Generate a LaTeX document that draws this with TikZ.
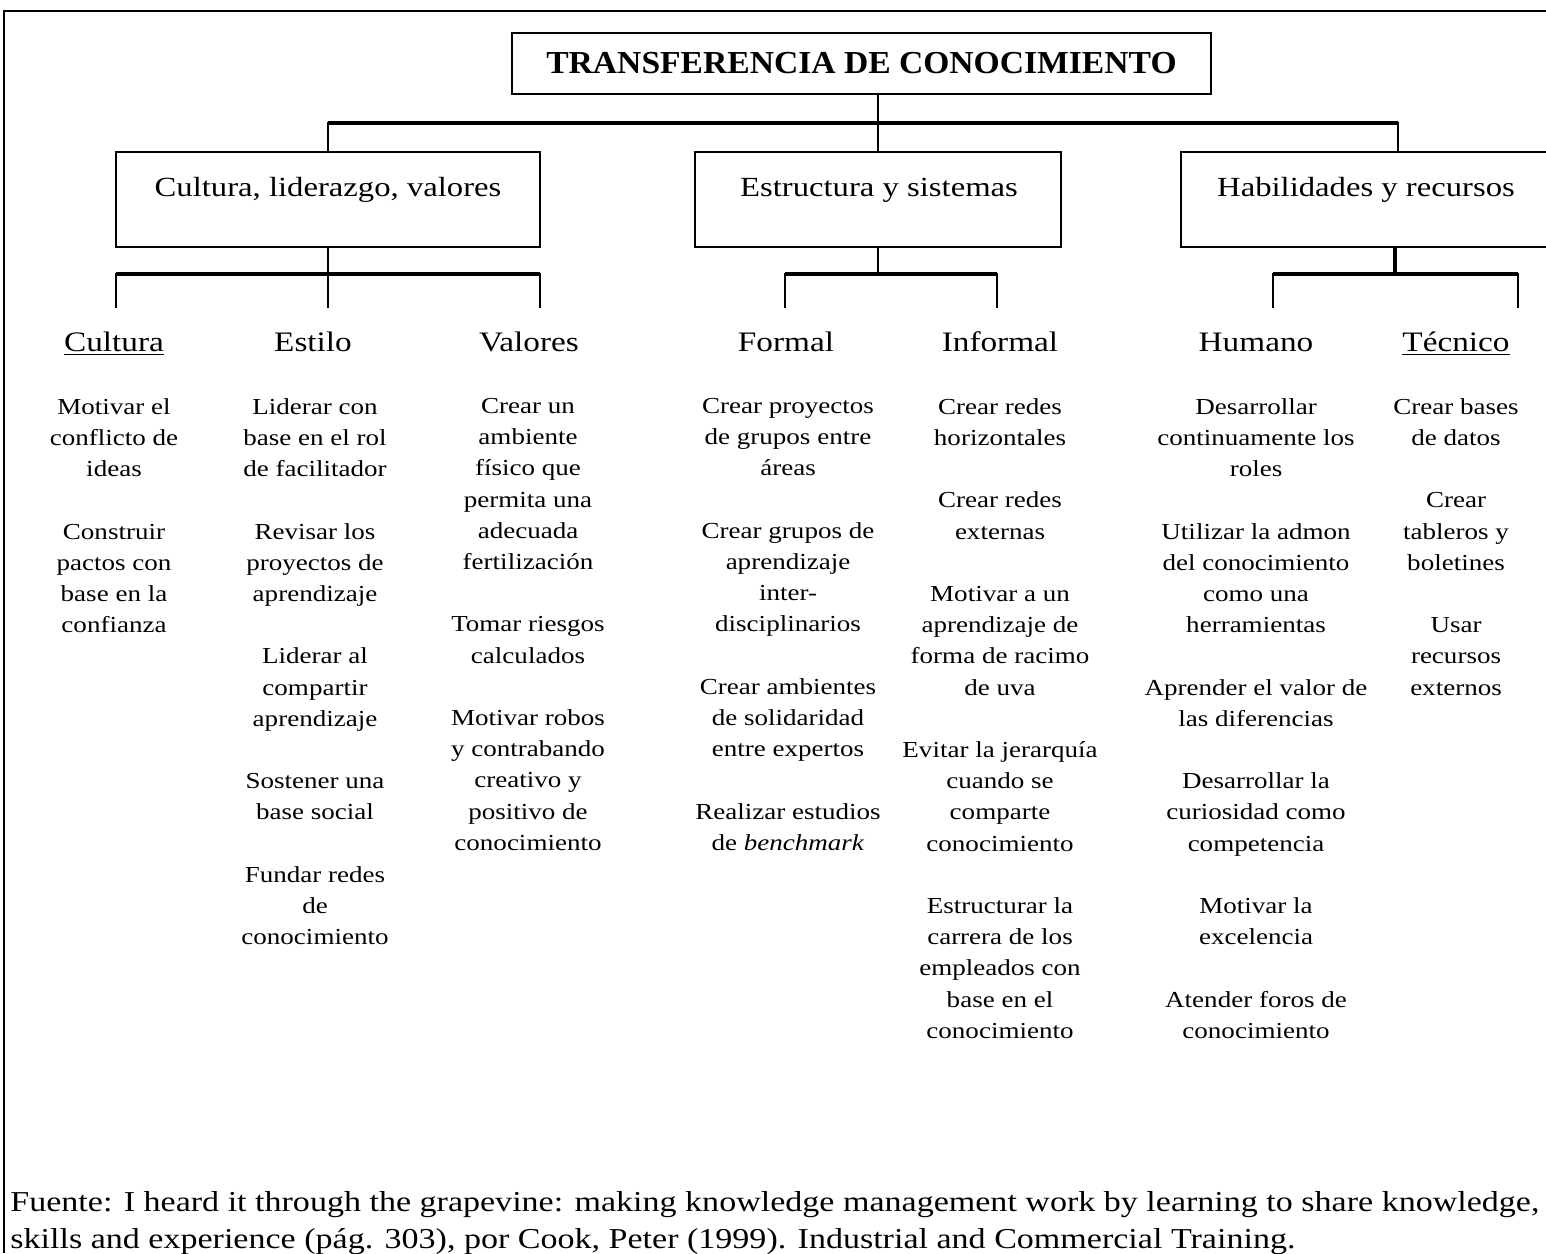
\documentclass[tikz,border=0pt]{standalone}
\usepackage{fontspec}
\setmainfont{Liberation Serif}[FakeStretch=1.18]
\newfontfamily\titlefont{Liberation Serif}[FakeStretch=1.05]

\begin{document}
\begin{tikzpicture}[x=0.5pt,y=-0.5pt,
  box/.style={draw, rectangle, line width=1.3pt, inner sep=0pt},
  link/.style={line width=0.8pt},
  bar/.style={line width=1.6pt},
  boxtext/.style={anchor=base, inner sep=0pt, font=\fontsize{13.85}{16}\selectfont},
  head/.style={anchor=base, inner sep=0pt, font=\fontsize{14.1}{17}\selectfont},
  item/.style={anchor=north, inner sep=0pt, align=center,
    font=\fontsize{11.45}{15.6}\selectfont, execute at begin node=\strut}]
\useasboundingbox (0,0) rectangle (1546,1253);
\clip (0,0) rectangle (1546,1253);

% outer frame (top and left sides)
\coordinate (fbl) at (4,1253);
\coordinate (ftl) at (4,11);
\coordinate (ftr) at (1546,11);
\draw[line width=1pt] (fbl) -- (ftl) -- (ftr);

% root
\node[box, minimum width=349.5pt, minimum height=30.5pt,
      font=\titlefont\bfseries\fontsize{16}{18}\selectfont] (title) at (861.5,63.5)
      {TRANSFERENCIA DE CONOCIMIENTO};

% second level boxes
\node[box, minimum width=212pt, minimum height=47.5pt] (b1) at (328,199.5) {};
\node[box, minimum width=183pt, minimum height=47.5pt] (b2) at (878,199.5) {};
\node[box, minimum width=217pt, minimum height=47.5pt] (b3) at (1398,199.5) {};
\node[boxtext] (t1) at (328,196) {Cultura, liderazgo, valores};
\node[boxtext] (t2) at (879,196) {Estructura y sistemas};
\node[boxtext] (t3) at (1366,196) {Habilidades y recursos};

% root to second level
\coordinate (hb) at (878,123);
\draw[link] (title.south -| b2.north) -- (b2.north);
\draw[link] (b1.north) -- (b1.north |- hb) -- (b3.north |- hb) -- (b3.north);
\draw[bar] (b1.north |- hb) -- (b3.north |- hb);

% third level connectors
\coordinate (l1) at (328,274);
\coordinate (l2) at (878,274);
\coordinate (l3) at (1395,274);
\coordinate (c1) at (116,308);
\coordinate (c2) at (328,308);
\coordinate (c3) at (540,308);
\coordinate (c4) at (785,308);
\coordinate (c5) at (997,308);
\coordinate (c6) at (1273,308);
\coordinate (c7) at (1518,308);

\draw[link] (b1.south) -- (c2);
\draw[link] (c1) -- (c1 |- l1) -- (c3 |- l1) -- (c3);
\draw[bar] (c1 |- l1) -- (c3 |- l1);

\draw[link] (b2.south) -- (b2.south |- l2);
\draw[link] (c4) -- (c4 |- l2) -- (c5 |- l2) -- (c5);
\draw[bar] (c4 |- l2) -- (c5 |- l2);

\draw[bar] (b3.south -| l3) -- (l3);
\draw[link] (c6) -- (c6 |- l3) -- (c7 |- l3) -- (c7);
\draw[bar] (c6 |- l3) -- (c7 |- l3);

% third level headings
\node[head] (h1) at (114,351) {\underline{Cultura}};
\node[head] (h2) at (313,351) {Estilo};
\node[head] (h3) at (529,351) {Valores};
\node[head] (h4) at (786,351) {Formal};
\node[head] (h5) at (1000,351) {Informal};
\node[head] (h6) at (1256,351) {Humano};
\node[head] (h7) at (1456,351) {\underline{Técnico}};

% actions under each heading
\node[item] (i1) at (114,398) {Motivar el\\ conflicto de\\ ideas\\[15.6pt]
  Construir\\ pactos con\\ base en la\\ confianza};
\node[item] (i2) at (315,398) {Liderar con\\ base en el rol\\ de facilitador\\[15.6pt]
  Revisar los\\ proyectos de\\ aprendizaje\\[15.6pt]
  Liderar al\\ compartir\\ aprendizaje\\[15.6pt]
  Sostener una\\ base social\\[15.6pt]
  Fundar redes\\ de\\ conocimiento};
\node[item] (i3) at (528,398) {Crear un\\ ambiente\\ físico que\\ permita una\\ adecuada\\ fertilización\\[15.6pt]
  Tomar riesgos\\ calculados\\[15.6pt]
  Motivar robos\\ y contrabando\\ creativo y\\ positivo de\\ conocimiento};
\node[item] (i4) at (788,398) {Crear proyectos\\ de grupos  entre\\ áreas\\[15.6pt]
  Crear grupos de\\ aprendizaje\\ inter-\\ disciplinarios\\[15.6pt]
  Crear ambientes\\ de solidaridad\\ entre expertos\\[15.6pt]
  Realizar estudios\\ de \textit{benchmark}};
\node[item] (i5) at (1000,398) {Crear redes\\ horizontales\\[15.6pt]
  Crear redes\\ externas\\[15.6pt]
  Motivar a un\\ aprendizaje de\\ forma de racimo\\ de uva\\[15.6pt]
  Evitar la jerarquía\\ cuando se\\ comparte\\ conocimiento\\[15.6pt]
  Estructurar la\\ carrera de los\\ empleados con\\ base en el\\ conocimiento};
\node[item] (i6) at (1256,398) {Desarrollar\\ continuamente los\\ roles\\[15.6pt]
  Utilizar la admon\\ del conocimiento\\ como una\\ herramientas\\[15.6pt]
  Aprender el valor de\\ las diferencias\\[15.6pt]
  Desarrollar la\\ curiosidad como\\ competencia\\[15.6pt]
  Motivar la\\ excelencia\\[15.6pt]
  Atender foros de\\ conocimiento};
\node[item] (i7) at (1456,398) {Crear bases\\ de datos\\[15.6pt]
  Crear\\ tableros y\\ boletines\\[15.6pt]
  Usar\\ recursos\\ externos};

% source
\node[anchor=north west, inner sep=0pt, align=left, execute at begin node=\strut,
      font=\fontsize{14.42}{18.5}\selectfont] (src) at (10,1191)
  {Fuente: I heard it through the grapevine: making knowledge management work by learning to share knowledge,\\
   skills and experience (pág. 303), por Cook, Peter (1999). Industrial and Commercial Training.};
\end{tikzpicture}
\end{document}
